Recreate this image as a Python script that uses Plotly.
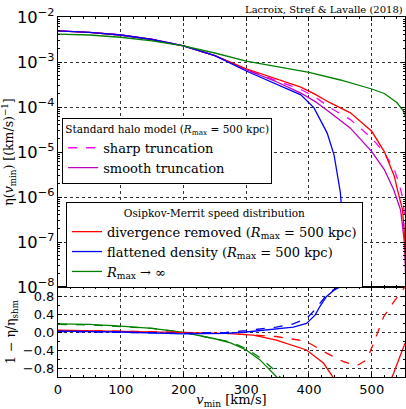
import numpy as np
import plotly.graph_objects as go
from plotly.subplots import make_subplots

# ---------------- data ----------------
# top panel: log10 eta(v_min) [(km/s)^-1]
v_green = [0, 50, 100, 150, 200, 250, 300, 350, 400, 450, 500, 520, 540, 550, 555]
lg_green = [-2.38, -2.40, -2.45, -2.53, -2.64, -2.80, -2.98, -3.10, -3.23, -3.40, -3.60, -3.70, -3.90, -4.08, -4.25]

v_red = [0, 50, 100, 150, 200, 250, 300, 350, 387, 410, 434, 466, 500, 520, 536, 541, 549, 553, 554.5, 556]
lg_red = [-2.31, -2.34, -2.40, -2.50, -2.64, -2.86, -3.15, -3.38, -3.56, -3.72, -3.91, -4.13, -4.54, -4.99,
          -5.54, -5.84, -6.28, -7.0, -8.0, -8.5]

v_sharp = [0, 50, 100, 150, 200, 250, 300, 350, 387, 410, 434, 466, 500, 520, 536, 544, 549, 553, 554.5, 556]
lg_sharp = [-2.31, -2.34, -2.40, -2.50, -2.64, -2.86, -3.17, -3.42, -3.61, -3.78, -4.02, -4.28, -4.69, -5.02,
            -5.39, -5.72, -6.0, -6.5, -7.3, -8.5]

v_smooth = [0, 50, 100, 150, 200, 250, 300, 350, 387, 410, 434, 466, 500, 520, 535, 541, 546, 552, 555, 556]
lg_smooth = [-2.31, -2.34, -2.40, -2.50, -2.64, -2.86, -3.17, -3.45, -3.69, -3.88, -4.13, -4.47, -4.99, -5.39,
             -5.84, -6.06, -6.29, -7.0, -7.9, -8.5]

v_blue = [0, 50, 100, 150, 200, 250, 300, 350, 387, 408, 429, 440, 450, 456, 459.5, 460.5]
lg_blue = [-2.31, -2.34, -2.40, -2.50, -2.64, -2.86, -3.20, -3.50, -3.73, -4.02, -4.58, -5.07, -5.9, -7.0, -8.0, -8.5]

# bottom panel: 1 - eta/eta_shm  (solid: vs smooth truncation, dashed: vs sharp truncation)
v_g_s = [0, 50, 100, 150, 200, 250, 275, 300, 322, 343, 350]
r_g_s = [0.18, 0.17, 0.13, 0.08, -0.01, -0.15, -0.24, -0.40, -0.62, -0.91, -1.02]
v_g_d = [0, 50, 100, 150, 200, 250, 275, 300, 322, 343, 355]
r_g_d = [0.17, 0.16, 0.12, 0.08, -0.01, -0.14, -0.22, -0.37, -0.57, -0.82, -1.02]

v_r_s = [0, 100, 200, 268, 311, 348, 396, 423, 439, None, 532, 545, 553]
r_r_s = [0.04, 0.02, -0.01, -0.03, -0.07, -0.18, -0.40, -0.69, -1.02, None, -1.02, -0.55, -0.25]
v_r_d = [0, 100, 200, 268, 348, 396, 428, 455, 476, 492, 503, 519, 535, 553]
r_r_d = [0.03, 0.02, -0.01, -0.03, -0.10, -0.21, -0.47, -0.66, -0.75, -0.62, -0.25, 0.34, 0.67, 1.0]

v_b_s = [0, 100, 200, 268, 300, 348, 375, 396, 410, 417, 428, 440, 449, 460]
r_b_s = [0.02, 0.0, -0.04, -0.03, 0.0, 0.06, 0.11, 0.19, 0.38, 0.56, 0.79, 0.93, 1.0, 1.0]
v_b_d = [0, 100, 200, 268, 300, 348, 375, 396, 410, 417, 428, 440, 449, 460]
r_b_d = [0.01, -0.01, -0.03, -0.01, 0.03, 0.11, 0.18, 0.30, 0.50, 0.63, 0.82, 0.95, 1.0, 1.0]

x_ticks = [0, 100, 200, 300, 400, 500]
ratio_ticks = [-0.8, -0.4, 0.0, 0.4, 0.8]

# ---------------- figure ----------------
RED, BLUE, GREEN = "#ff0000", "#0000ff", "#008000"
MAG_D, MAG_S = "#ff00ff", "#bf00bf"
SERIF = "DejaVu Serif"
SANS = "DejaVu Sans"
LW = 1.3

fig = make_subplots(rows=2, cols=1, shared_xaxes=True, row_heights=[0.75, 0.25], vertical_spacing=0)

def pw(lst):
    return [10 ** x for x in lst]

fig.add_trace(go.Scatter(x=v_sharp, y=pw(lg_sharp), mode="lines", name="sharp truncation",
                         line=dict(color=MAG_D, width=LW, dash="dash"), legend="legend"), row=1, col=1)
fig.add_trace(go.Scatter(x=v_smooth, y=pw(lg_smooth), mode="lines", name="smooth truncation",
                         line=dict(color=MAG_S, width=LW), legend="legend"), row=1, col=1)
fig.add_trace(go.Scatter(x=v_red, y=pw(lg_red), mode="lines",
                         name="divergence removed (<i>R</i><sub>max</sub> = 500 kpc)",
                         line=dict(color=RED, width=LW), legend="legend2"), row=1, col=1)
fig.add_trace(go.Scatter(x=v_blue, y=pw(lg_blue), mode="lines",
                         name="flattened density (<i>R</i><sub>max</sub> = 500 kpc)",
                         line=dict(color=BLUE, width=LW), legend="legend2"), row=1, col=1)
fig.add_trace(go.Scatter(x=v_green, y=pw(lg_green), mode="lines",
                         name="<i>R</i><sub>max</sub> → ∞",
                         line=dict(color=GREEN, width=LW), legend="legend2"), row=1, col=1)

for xs, ys, col, dash in [(v_g_d, r_g_d, GREEN, "dash"), (v_g_s, r_g_s, GREEN, "solid"),
                          (v_r_d, r_r_d, RED, "dash"), (v_r_s, r_r_s, RED, "solid"),
                          (v_b_d, r_b_d, BLUE, "dash"), (v_b_s, r_b_s, BLUE, "solid")]:
    fig.add_trace(go.Scatter(x=xs, y=ys, mode="lines", showlegend=False, connectgaps=False,
                             line=dict(color=col, width=LW, dash=dash)), row=2, col=1)

axis_common = dict(showline=True, linecolor="black", linewidth=1, mirror="allticks",
                   ticks="inside", ticklen=4, tickcolor="black", zeroline=False,
                   showgrid=True, gridcolor="#333333", griddash="dot", gridwidth=1,
                   tickfont=dict(family=SANS, size=13, color="black"))

fig.update_xaxes(**axis_common, range=[0, 553], tickvals=x_ticks,
                 minor=dict(ticks="inside", ticklen=2, dtick=20, tickcolor="black", showgrid=False))
fig.update_xaxes(showticklabels=False, row=1, col=1)
fig.update_xaxes(title=dict(text="<i>v</i><sub>min</sub> [km/s]", font=dict(family=SERIF, size=13, color="black"),
                            standoff=6), row=2, col=1)

fig.update_yaxes(**axis_common, type="log", range=[-8, -2], dtick=1, exponentformat="power",
                 minor=dict(ticks="inside", ticklen=2, tickcolor="black", showgrid=False),
                 title=dict(text="η(<i>v</i><sub>min</sub>) [(km/s)<sup>−1</sup>]",
                            font=dict(family=SERIF, size=12.5, color="black"), standoff=4),
                 row=1, col=1)
fig.update_yaxes(**axis_common, range=[-1, 1], tickvals=ratio_ticks, tickformat=".1f",
                 minor=dict(ticks="inside", ticklen=2, dtick=0.2, tickcolor="black", showgrid=False),
                 title=dict(text="1 − η/η<sub>shm</sub>", font=dict(family=SERIF, size=12.5, color="black"),
                            standoff=4),
                 row=2, col=1)

leg_common = dict(bgcolor="white", bordercolor="black", borderwidth=1,
                  font=dict(family=SERIF, size=13, color="black"),
                  xanchor="left", yanchor="top", tracegroupgap=0, itemwidth=30)

fig.update_layout(
    width=406, height=409,
    margin=dict(l=58, r=1, t=17, b=32, autoexpand=False),
    paper_bgcolor="white", plot_bgcolor="white",
    legend=dict(**leg_common, x=0.012, y=0.719,
                title=dict(text="Standard halo model (<i>R</i><sub>max</sub> = 500 kpc)",
                           font=dict(family=SERIF, size=10.5, color="black"), side="top center")),
    legend2=dict(**leg_common, x=0.023, y=0.486,
                 title=dict(text="Osipkov-Merrit speed distribution",
                            font=dict(family=SERIF, size=10.5, color="black"), side="top center")),
    annotations=[dict(text="Lacroix, Stref &amp; Lavalle (2018)", xref="paper", yref="paper",
                      x=1.0, y=1.0, xanchor="right", yanchor="bottom", showarrow=False,
                      font=dict(family=SERIF, size=10, color="black"))],
)

fig.write_html("out.html", config={"displayModeBar": False},
               post_script="document.body.style.margin='0px';")
